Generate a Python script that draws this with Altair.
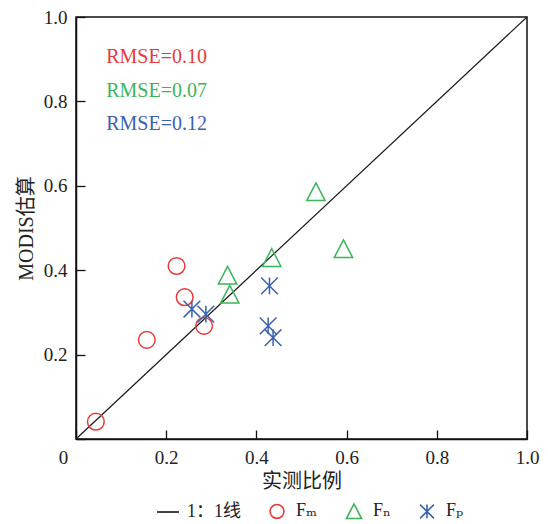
import altair as alt
import pandas as pd

# ---- data ----
series_names = ["1：1线", "Fₘ", "Fₙ", "Fₚ"]
series_colors = ["#111111", "#e8393c", "#3cb55a", "#3a62b0"]
series_shapes = [
    "M-1.6,0L1.6,0",
    "circle",
    "M0,-1.06L1.1,1.06L-1.1,1.06Z",
    "M0,-1L0,1M-1,-1L1,1M-1,1L1,-1",
]

fm_x = [0.044, 0.157, 0.223, 0.241, 0.284]
fm_y = [0.041, 0.235, 0.410, 0.336, 0.268]
fn_x = [0.336, 0.341, 0.434, 0.593, 0.532]
fn_y = [0.388, 0.343, 0.430, 0.451, 0.586]
fp_x = [0.257, 0.288, 0.429, 0.426, 0.437]
fp_y = [0.308, 0.296, 0.363, 0.268, 0.240]

line_x = [0.0, 1.0]
line_y = [0.0, 1.0]

rmse_labels = ["RMSE=0.10", "RMSE=0.07", "RMSE=0.12"]
rmse_colors = ["#e8393c", "#3cb55a", "#3a62b0"]
rmse_x = [0.067, 0.067, 0.067]
rmse_y = [0.891, 0.810, 0.732]

tick_values = [0.0, 0.2, 0.4, 0.6, 0.8, 1.0]

FONT = "'Times New Roman', 'Liberation Serif', 'DejaVu Serif', 'Noto Sans CJK SC', serif"

# ---- tables ----
pts = pd.DataFrame({
    "x": fm_x + fn_x + fp_x,
    "y": fm_y + fn_y + fp_y,
    "series": [series_names[1]] * len(fm_x) + [series_names[2]] * len(fn_x) + [series_names[3]] * len(fp_x),
})
diag = pd.DataFrame({"x": line_x, "y": line_y})
txt = pd.DataFrame({"x": rmse_x, "y": rmse_y, "t": rmse_labels, "c": rmse_colors})

xscale = alt.Scale(domain=[0, 1], nice=False, zero=False)
yscale = alt.Scale(domain=[0, 1], nice=False, zero=False)

xaxis = alt.Axis(
    values=tick_values,
    labelExpr="datum.value == 0 ? '0' : format(datum.value, '.1f')",
    labelOffset={"condition": {"test": "datum.value == 0", "value": -13}, "value": 0},
    labelFlush=False,
    tickSize={"expr": "-9"},
    labelPadding=18,
    title="实测比例",
    titlePadding=4,
    grid=False,
)
yaxis = alt.Axis(
    values=tick_values,
    labelExpr="datum.value == 0 ? '' : format(datum.value, '.1f')",
    labelFlush=False,
    tickSize={"expr": "-9"},
    labelPadding=18,
    title="MODIS估算",
    titlePadding=7,
    grid=False,
)

legend = alt.Legend(
    title=None,
    orient="none",
    direction="horizontal",
    legendX=83,
    legendY=485,
    symbolSize=190,
    symbolStrokeWidth=1.6,
    labelOffset=10,
    columnPadding=25,
    labelFont=FONT,
    labelFontSize=18,
    labelColor="#222222",
    padding=0,
)

color_enc = alt.Color("series:N", scale=alt.Scale(domain=series_names, range=series_colors), legend=legend)
shape_enc = alt.Shape("series:N", scale=alt.Scale(domain=series_names, range=series_shapes), legend=legend)

line = alt.Chart(diag).mark_line(color="#1a1a1a", strokeWidth=1.2).encode(
    x=alt.X("x:Q", scale=xscale, axis=xaxis),
    y=alt.Y("y:Q", scale=yscale, axis=yaxis),
)

points = alt.Chart(pts).mark_point(filled=False, strokeWidth=1.5, size=279, opacity=1).encode(
    x=alt.X("x:Q", scale=xscale),
    y=alt.Y("y:Q", scale=yscale),
    color=color_enc,
    shape=shape_enc,
)

texts = alt.Chart(txt).mark_text(align="left", baseline="alphabetic", font=FONT, fontSize=20).encode(
    x=alt.X("x:Q", scale=xscale),
    y=alt.Y("y:Q", scale=yscale),
    text="t:N",
    color=alt.Color("c:N", scale=None, legend=None),
)

chart = alt.layer(line, points, texts).properties(
    width=451,
    height=422,
    autosize=alt.AutoSizeParams(type="none"),
    padding={"left": 68, "top": 9, "right": 13, "bottom": 84},
    background="white",
).configure_view(
    stroke="#111111", strokeWidth=1.5,
).configure_axis(
    domainColor="#111111",
    domainWidth=1.5,
    tickColor="#111111",
    tickWidth=1.3,
    labelFont=FONT,
    labelFontSize=19,
    labelColor="#222222",
    titleFont=FONT,
    titleFontSize=20,
    titleFontWeight="normal",
    titleColor="#222222",
)

chart.save("out.html", embed_options={"renderer": "svg", "actions": False})
